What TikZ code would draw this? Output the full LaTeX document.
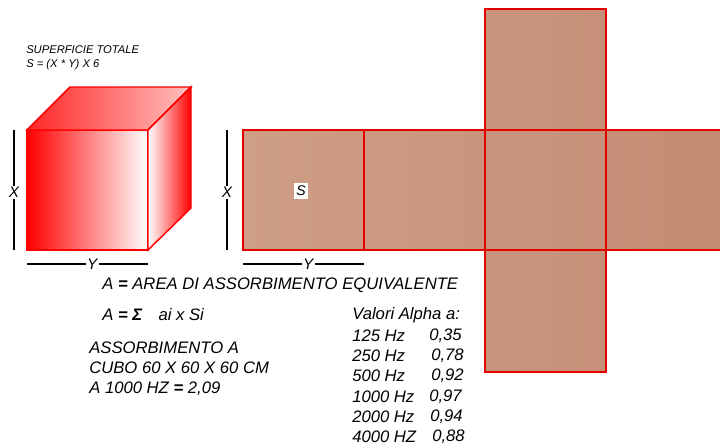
\documentclass[tikz,border=0pt]{standalone}
\usepackage{fontspec}
\setmainfont{Liberation Sans}
\tikzset{
  netface/.style={draw=red!90!black, line width=1.1pt, shading angle=25, left color=netlight, right color=netdark},
  cubeedge/.style={draw=red, line width=1.1pt},
  dimline/.style={draw=black, line width=1.1pt},
  dimlabel/.style={fill=white, inner sep=1pt, font=\fontsize{11.5}{12}\selectfont\itshape},
  note/.style={anchor=west, inner sep=0pt, align=left, font=\fontsize{12.5}{15}\selectfont\itshape}
}
\definecolor{netlight}{HTML}{CF9E87}
\definecolor{netdark}{HTML}{C28C72}
\newcommand{\eqsign}{\textbf{=}}
\begin{document}
\begin{tikzpicture}[x=0.75pt, y=-0.75pt]
  \useasboundingbox (0,0) rectangle (720,447);
  % unfolded cube
  \begin{scope}
    \clip (0,0) rectangle (720,447);
    \draw[netface] (485,9) rectangle (606,130)
      (485,250) rectangle (606,372)
      (243,130) rectangle (364,250)
      (364,130) rectangle (485,250)
      (485,130) rectangle (606,250)
      (606,130) rectangle (730,250);
  \end{scope}
  % cube
  \draw[cubeedge, left color=red, right color=white] (27,130) rectangle (148,250);
  \draw[cubeedge, shading angle=45, left color=red!85, right color=red!25] (27,130) -- (70,87) -- (191,87) -- (148,130) -- cycle;
  \draw[cubeedge, left color=white, right color=red] (148,130) -- (191,87) -- (191,208) -- (148,250) -- cycle;
  % measures
  \draw[dimline] (14,130) -- (14,250) node[pos=.52, dimlabel] (cubex) {X};
  \draw[dimline] (227,130) -- (227,250) node[pos=.52, dimlabel] (netx) {X};
  \draw[dimline] (27,264) -- (148,264) node[pos=.54, dimlabel] (cubey) {Y};
  \draw[dimline] (243,264) -- (364,264) node[pos=.54, dimlabel] (nety) {Y};
  \node[fill=white, inner sep=2pt, font=\fontsize{10.5}{11}\selectfont\itshape] (faces) at (301,191) {S};
  % texts
  \node[note, font=\fontsize{8.4}{10.2}\selectfont\itshape] (total) at (26,58) {SUPERFICIE TOTALE\\S = (X * Y) X 6};
  \node[note] (area) at (102,285) {A \eqsign{} AREA DI ASSORBIMENTO EQUIVALENTE};
  \node[note] (formula) at (102,314.5) {A \eqsign{} \textbf{Σ}\hspace{0.7em} ai x Si};
  \node[note] (cubo) at (89,368.5) {ASSORBIMENTO A\\CUBO 60 X 60 X 60 CM\\A 1000 HZ \eqsign{} 2,09};
  \node[note] (alpha) at (352,315.5) {Valori Alpha a:};
  \node[note] (v125) at (352,336) {125 Hz};
  \node[note] (a125) at (429,336) {0,35};
  \node[note] (v250) at (352,356) {250 Hz};
  \node[note] (a250) at (431,356) {0,78};
  \node[note] (v500) at (352,376) {500 Hz};
  \node[note] (a500) at (431,376) {0,92};
  \node[note] (v1000) at (352,397) {1000 Hz};
  \node[note] (a1000) at (429,397) {0,97};
  \node[note] (v2000) at (352,417) {2000 Hz};
  \node[note] (a2000) at (430,417) {0,94};
  \node[note] (v4000) at (352,437) {4000 HZ};
  \node[note] (a4000) at (432,437) {0,88};
\end{tikzpicture}
\end{document}
